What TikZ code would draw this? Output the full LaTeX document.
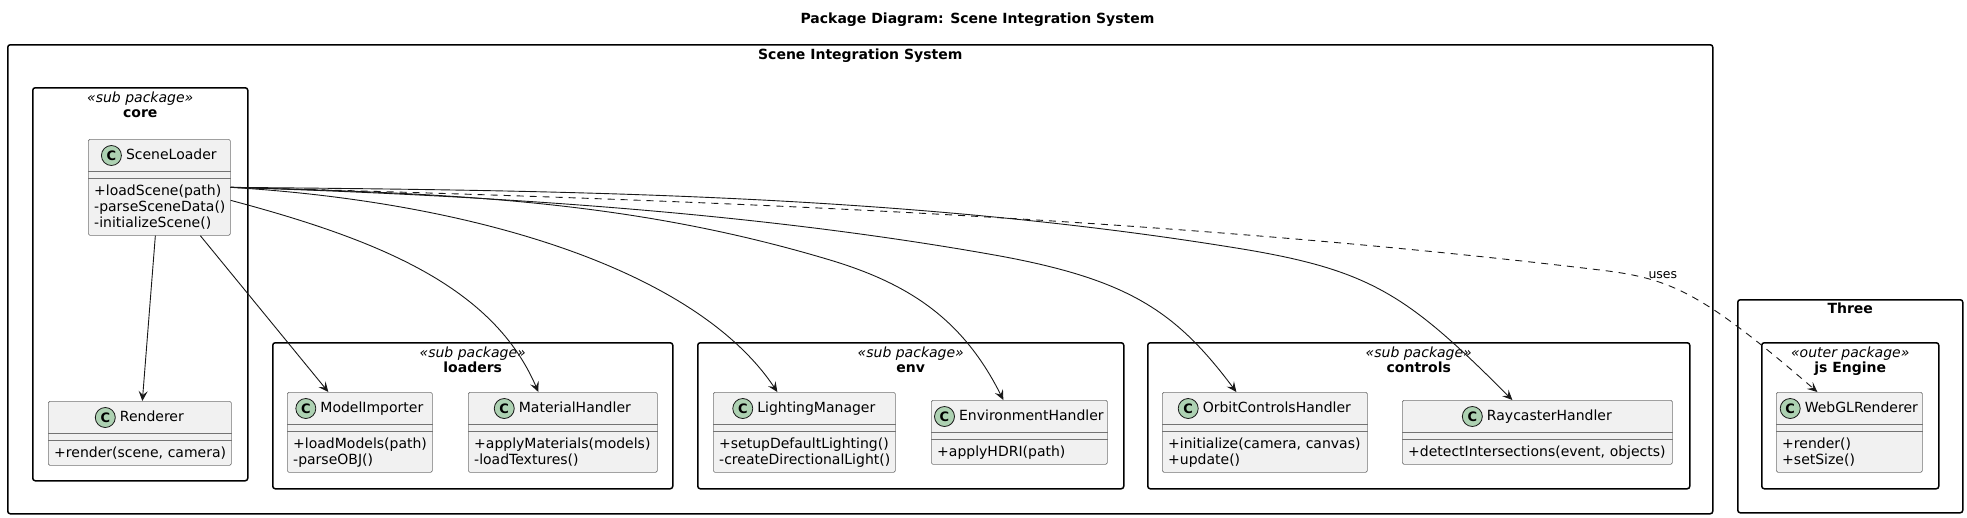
\documentclass[tikz,border=0pt]{standalone}
\usepackage{fontspec}
\setmainfont{DejaVu Sans}
\usetikzlibrary{arrows.meta,positioning}

\definecolor{clsfill}{HTML}{F1F1F1}
\definecolor{spotfill}{HTML}{ADD1B2}
\definecolor{umlink}{HTML}{181818}

% class box: name, top left, width, height, title, members
\newcommand{\umlclass}[6]{%
  \node[clsbox, minimum width=#3pt, minimum height=#4pt] (#1) at (#2) {};
  \node[clsname] (#1-name) at ([xshift=12pt, yshift=-16.5pt]#1.north) {#5};
  \node[spot, left=4pt of #1-name] (#1-spot) {C};
  \draw[clsrule] ([yshift=-32pt]#1.north west) -- ([yshift=-32pt]#1.north east);
  \draw[clsrule] ([yshift=-39pt]#1.north west) -- ([yshift=-39pt]#1.north east);
  \node[members, text width=#3pt] (#1-ops) at ([shift={(6pt,-56pt)}]#1.north west) {#6};
}
% package frame: name, top left, width, height, stereotype, label
\newcommand{\umlpackage}[6]{%
  \node[pkg, minimum width=#3pt, minimum height=#4pt] (#1) at (#2) {};
  \node[stereo] (#1-st) at ([yshift=-15pt]#1.north) {«#5»};
  \node[pkgname] (#1-lbl) at ([yshift=-30pt]#1.north) {#6};
}

\begin{document}
\begin{tikzpicture}[x=1pt, y=-1pt,
    pkg/.style={draw=black, line width=1.5pt, rounded corners=2.5pt, anchor=north west, inner sep=0pt},
    stereo/.style={anchor=base, inner sep=0pt, font={\fontsize{14}{16}\selectfont\itshape}},
    pkgname/.style={anchor=base, inner sep=0pt, font={\fontsize{14}{16}\selectfont\bfseries}},
    diagtitle/.style={pkgname},
    clsbox/.style={draw=black!55, fill=clsfill, line width=0.7pt, rounded corners=1.5pt, anchor=north west, inner sep=0pt},
    clsrule/.style={draw=black!55, line width=0.7pt},
    clsname/.style={inner sep=0pt, text height=10.5pt, text depth=3pt, font={\fontsize{14}{16}\selectfont}},
    spot/.style={circle, draw=umlink, fill=spotfill, line width=0.8pt, minimum size=20pt, inner sep=0pt, font={\fontsize{13}{13}\selectfont\bfseries}},
    members/.style={anchor=base west, inner sep=0pt, align=left, font={\fontsize{14}{16.3}\selectfont\hyphenpenalty=10000\exhyphenpenalty=10000}},
    dep/.style={draw=umlink, line width=0.9pt, -{Stealth[length=10pt, width=9pt, inset=4pt]}},
    usesdash/.style={dep, dash pattern=on 7pt off 6pt},
    lbl/.style={anchor=base west, inner sep=1pt, font={\fontsize{12.5}{14}\selectfont}}]
  \useasboundingbox (0,0) rectangle (1967,517);

  \node[diagtitle] (title) at (977.5,23) {Package Diagram: Scene Integration System};

  % outer packages
  \node[pkg, minimum width=1705pt, minimum height=469pt] (sis) at (7,44) {};
  \node[pkgname] (sis-lbl) at ([yshift=-15pt]sis.north) {Scene Integration System};
  \node[pkg, minimum width=225pt, minimum height=213pt] (three) at (1737,299) {};
  \node[pkgname] (three-lbl) at ([yshift=-14pt]three.north) {Three};

  % sub packages
  \umlpackage{core}{32,87}{215}{393}{sub package}{core}
  \umlpackage{loaders}{272,342}{400}{146}{sub package}{loaders}
  \umlpackage{env}{697,342}{426}{146}{sub package}{env}
  \umlpackage{controls}{1147,342}{542}{146}{sub package}{controls}
  \umlpackage{jsengine}{1761,342}{177}{146}{outer package}{js Engine}

  % classes
  \umlclass{loader}{88,139}{142}{96}{SceneLoader}{+loadScene(path)\\-parseSceneData()\\-initializeScene()}
  \umlclass{render}{48,401}{183}{64}{Renderer}{+render(scene, camera)}
  \umlclass{model}{287,392}{145}{80}{ModelImporter}{+loadModels(path)\\-parseOBJ()}
  \umlclass{material}{468,392}{189}{80}{MaterialHandler}{+applyMaterials(models)\\-loadTextures()}
  \umlclass{lighting}{713,392}{182}{80}{LightingManager}{+setupDefaultLighting()\\-createDirectionalLight()}
  \umlclass{envh}{931,400}{176}{64}{EnvironmentHandler}{+applyHDRI(path)}
  \umlclass{orbit}{1162,392}{205}{80}{OrbitControlsHandler}{+initialize(camera, canvas)\\+update()}
  \umlclass{rayc}{1402,400}{270}{64}{RaycasterHandler}{+detectIntersections(event, objects)}
  \umlclass{webgl}{1776,392}{146}{80}{WebGLRenderer}{+render()\\+setSize()}

  % dependencies
  \draw[dep] ([xshift=-4pt]loader.south) -- ([xshift=2.5pt]render.north);
  \draw[dep] ([xshift=41pt]loader.south) -- ([xshift=-31.5pt]model.north);
  \draw[dep] ([yshift=-13pt]loader.east) .. controls +(150,40) and +(-45,-105) .. ([xshift=-24.5pt]material.north);
  \draw[dep] (loader.east) .. controls +(250,15) and +(-80,-120) .. ([xshift=-27pt]lighting.north);
  \draw[dep] (loader.east) .. controls +(220,6) and +(-200,-60) .. (830,260)
    .. controls +(80,24) and +(-40,-80) .. ([xshift=-16pt]envh.north);
  \draw[dep] (loader.east) .. controls +(250,8) and +(-250,-45) .. (1000,256)
    .. controls +(130,24) and +(-60,-80) .. ([xshift=-28.5pt]orbit.north);
  \draw[dep] (loader.east) .. controls +(330,3) and +(-330,-53) .. (1230,247)
    .. controls +(140,22) and +(-107,-107) .. ([xshift=-25pt]rayc.north);
  \draw[usesdash] (loader.east) .. controls +(450,12) and +(-450,-54) .. (1600,270)
    .. controls +(70,8.4) and +(-117,-101) .. ([xshift=-32pt]webgl.north)
    node[lbl, pos=0.25] (uses-lbl) {uses};
\end{tikzpicture}
\end{document}
